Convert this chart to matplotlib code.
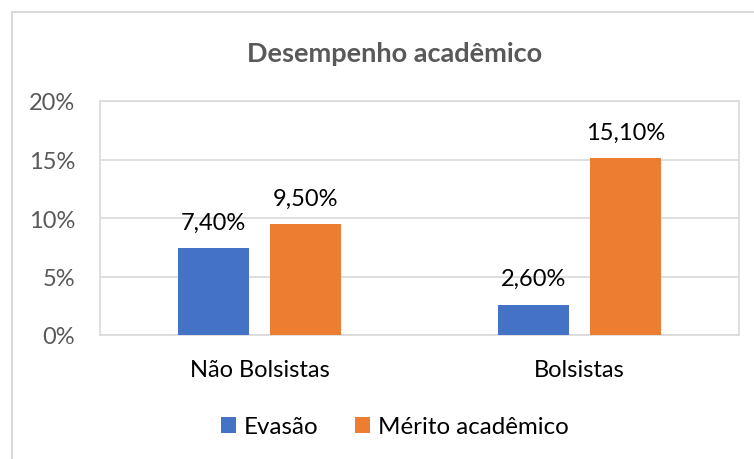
import matplotlib
matplotlib.use("Agg")
import matplotlib.pyplot as plt
from matplotlib.lines import Line2D
from matplotlib.ticker import FuncFormatter
import numpy as np

categories = ["Não Bolsistas", "Bolsistas"]
series_names = ["Evasão", "Mérito acadêmico"]
evasao = [7.4, 2.6]
merito = [9.5, 15.1]
yticks = [0, 5, 10, 15, 20]
colors = ["#4472C4", "#ED7D31"]
title = "Desempenho acadêmico"

plt.rcParams['font.family'] = ['Lato', 'DejaVu Sans']

fig = plt.figure(figsize=(7.54, 4.6), dpi=100)
ax = fig.add_axes([100/754, 1-336/460, 639/754, 234/460])

x = np.arange(len(categories))
w = 0.222
off = 0.144
b1 = ax.bar(x - off, evasao, w, color=colors[0], label=series_names[0], zorder=3)
b2 = ax.bar(x + off, merito, w, color=colors[1], label=series_names[1], zorder=3)

for bars, vals in ((b1, evasao), (b2, merito)):
    for r, v in zip(bars, vals):
        ax.annotate(f"{v:.2f}%".replace(".", ","), (r.get_x() + r.get_width()/2, v),
                    xytext=(0, 11), textcoords="offset points", ha="center", va="bottom",
                    fontsize=17, color="#000000", zorder=4)

ax.set_xlim(-0.5, 1.5)
ax.set_ylim(0, 20)
ax.set_yticks(yticks)
ax.yaxis.set_major_formatter(FuncFormatter(lambda v, p: f"{int(v)}%"))
ax.set_xticks(x)
ax.set_xticklabels(categories)
ax.tick_params(axis='y', length=0, pad=18, labelsize=17, labelcolor="#595959")
ax.tick_params(axis='x', length=0, pad=17, labelsize=17, labelcolor="#000000")
ax.grid(axis='y', color="#D9D9D9", linewidth=1.2, zorder=0)
for s in ax.spines.values():
    s.set_color("#D9D9D9")
    s.set_linewidth(1.2)

fig.text(395/754, 1-54/460, title, ha="center", va="center", fontsize=19.5,
         fontweight="bold", color="#595959")

leg = fig.legend(handles=[b1, b2], labels=series_names, loc="center",
                 bbox_to_anchor=(395/754, 1-428/460), ncol=2, frameon=False,
                 fontsize=17.4, handlelength=0.6, handleheight=0.6,
                 handletextpad=0.35, columnspacing=1.5)

fig.add_artist(Line2D([12/754, 12/754], [0, 1-13/460], transform=fig.transFigure,
                      color="#D9D9D9", linewidth=1.5))
fig.add_artist(Line2D([12/754, 1], [1-13/460, 1-13/460], transform=fig.transFigure,
                      color="#D9D9D9", linewidth=1.5))

fig.savefig("out.png", dpi=100, facecolor="white")
